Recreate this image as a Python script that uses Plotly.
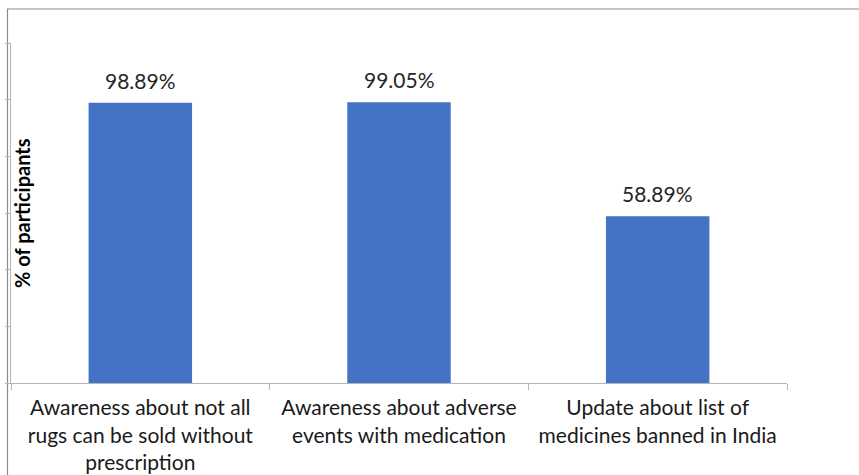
import plotly.graph_objects as go

categories = [
    "Awareness about not all<br>rugs can be sold without<br>prescription",
    "Awareness about adverse<br>events with medication",
    "Update about list of<br>medicines banned in India",
]
values = [98.89, 99.05, 58.89]
value_labels = ["98.89%", "99.05%", "58.89%"]
y_title = "% of participants"

W, H = 859, 475
L, R, T, B = 11, 72, 43, 92
pw = W - L - R
ph = H - T - B

fig = go.Figure()
fig.add_trace(go.Bar(
    x=categories, y=values,
    marker=dict(color="#4472C4", line=dict(width=0)),
    width=0.4,
))

annotations = [dict(
    x=c, y=v, text=t, xref="x", yref="y",
    xanchor="center", yanchor="bottom", yshift=8, showarrow=False,
    font=dict(family="Lato", size=21, color="#262626"),
) for c, v, t in zip(categories, values, value_labels)]

annotations.append(dict(
    text="<b>" + y_title + "</b>", textangle=-90,
    xref="paper", yref="paper",
    x=(22 - L) / pw, y=1 - (213 - T) / ph,
    xanchor="center", yanchor="middle", showarrow=False,
    font=dict(family="Lato", size=20, color="#000000"),
))

fig.update_layout(
    width=W, height=H,
    margin=dict(l=L, r=R, t=T, b=B, autoexpand=False),
    paper_bgcolor="white", plot_bgcolor="white",
    showlegend=False,
    font=dict(family="Lato", color="#1a1a1a"),
    xaxis=dict(
        automargin=False,
        showline=True, linecolor="#b4b4b4", linewidth=1.3,
        ticks="outside", ticklen=6, tickcolor="#b4b4b4", tickwidth=1.3,
        tickson="boundaries", showgrid=False,
        tickfont=dict(family="Lato", size=21, color="#1a1a1a"),
        ticklabelstandoff=6,
    ),
    yaxis=dict(
        automargin=False,
        range=[0, 120], dtick=20,
        showline=True, linecolor="#b4b4b4", linewidth=1.3,
        ticks="outside", ticklen=5, tickcolor="#b4b4b4", tickwidth=1.3,
        showticklabels=False, showgrid=False, zeroline=False,
    ),
    annotations=annotations,
    shapes=[dict(
        type="rect", xref="paper", yref="paper",
        x0=(7.5 - L) / pw, x1=(W + 10 - L) / pw,
        y0=-(H + 10 - T - ph) / ph, y1=1 + (T - 9) / ph,
        line=dict(color="#8c8c8c", width=1.2), fillcolor="rgba(0,0,0,0)",
        layer="below",
    )],
)

fig.write_html("out.html")
